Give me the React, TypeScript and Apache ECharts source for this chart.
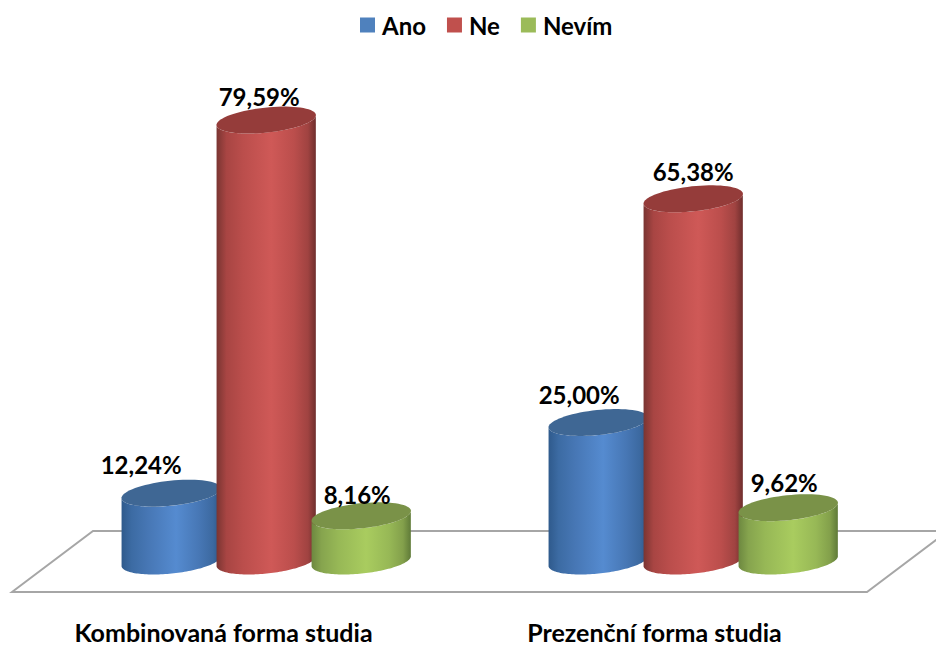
import React, { useEffect, useRef } from "react";
import * as echarts from "echarts";

const categories = ["Kombinovaná forma studia", "Prezenční forma studia"];
const seriesNames = ["Ano", "Ne", "Nevím"];
const ano = [12.24, 25.0];
const ne = [79.59, 65.38];
const nevim = [8.16, 9.62];
const seriesValues = [ano, ne, nevim];

// Per-label nudges (dx, dy from the top face centre), one row per series
const labelNudges = [
  [[-30, -29], [-19, -28]],
  [[-7, -24], [0, -27]],
  [[-4, -21], [-4, -25]],
];

const palettes = [
  { legend: "#4f81bd", top: "#3f6794", side: ["#2f5a8c", "#3c6ba3", "#4777b5", "#558bd0", "#4777b5", "#3c69a0", "#2c5587"] },
  { legend: "#c0504d", top: "#953c3a", side: ["#7a3532", "#a84543", "#bb4e4c", "#cf5957", "#bb4e4c", "#a04341", "#6f2e2d"] },
  { legend: "#9bbb59", top: "#7a9248", side: ["#6d8840", "#86a44e", "#97b856", "#a9cc5f", "#97b856", "#83a04b", "#5f7a38"] },
];
const sideStops = [0, 0.1, 0.27, 0.55, 0.78, 0.92, 1];

const FONT = "Lato";
const TILT = (6 * Math.PI) / 180;

// Outline of the tilted elliptical face, from angle a0 to a1
function arcPoints(cx: number, cy: number, rx: number, ry: number, a0: number, a1: number) {
  const pts: number[][] = [];
  const steps = 72;
  for (let i = 0; i <= steps; i++) {
    const t = a0 + ((a1 - a0) * i) / steps;
    const ex = rx * Math.cos(t);
    const ey = ry * Math.sin(t);
    pts.push([
      cx + ex * Math.cos(TILT) + ey * Math.sin(TILT),
      cy - ex * Math.sin(TILT) + ey * Math.cos(TILT),
    ]);
  }
  return pts;
}

function fmt(v: number) {
  return v.toFixed(2).replace(".", ",") + "%";
}

function cylinder(seriesIndex: number) {
  return (params: any, api: any) => {
    const idx = api.value(0);
    const val = api.value(1);
    const band = api.size([1, 0])[0];
    const [cxBase, yBase] = api.coord([idx, 0]);
    const [, yTop] = api.coord([idx, val]);
    const cx = cxBase + band * (0.1 + (seriesIndex - 1) * 0.2225);
    const rx = band * 0.117;
    const ry = rx * 0.25;
    const pal = palettes[seriesIndex];
    const tangent = Math.atan2(ry * Math.sin(TILT) * -1, rx * Math.cos(TILT));
    const lower = arcPoints(cx, yBase, rx, ry, tangent, tangent + Math.PI);
    const upper = arcPoints(cx, yTop, rx, ry, tangent + Math.PI, tangent);
    const side = lower.concat(upper);
    const top = arcPoints(cx, yTop, rx, ry, 0, Math.PI * 2);
    const [dx, dy] = labelNudges[seriesIndex][idx];
    return {
      type: "group",
      children: [
        {
          type: "polygon",
          shape: { points: side },
          style: {
            fill: new echarts.graphic.LinearGradient(
              0, 0, 1, 0,
              sideStops.map((offset, i) => ({ offset, color: pal.side[i] }))
            ),
          },
        },
        { type: "polygon", shape: { points: top }, style: { fill: pal.top } },
        {
          type: "text",
          z2: 10,
          style: {
            text: fmt(val),
            x: cx + dx,
            y: yTop + dy,
            align: "center",
            verticalAlign: "middle",
            fill: "#000",
            font: `bold 24px ${FONT}`,
          },
        },
      ],
    };
  };
}

// Perspective floor under the bars, spanning the category band of the grid
function floor(params: any) {
  const g = params.coordSys;
  const base = g.y + g.height;
  const skew = 81;
  return {
    type: "polygon",
    shape: {
      points: [
        [g.x + 2, base + 31],
        [g.x + 2 + skew, base - 30],
        [g.x + g.width + 3 + skew, base - 30],
        [g.x + g.width + 3, base + 31],
      ],
    },
    style: { fill: "#fff", stroke: "#a6a6a6", lineWidth: 2 },
  };
}

export default function App() {
  const ref = useRef<HTMLDivElement>(null);
  useEffect(() => {
    const chart = echarts.init(ref.current!, null, { renderer: "svg" });
    chart.setOption({
      animation: false,
      backgroundColor: "#fff",
      textStyle: { fontFamily: FONT },
      legend: {
        left: 355,
        top: 8,
        icon: "rect",
        itemWidth: 15,
        itemHeight: 15,
        itemGap: 21,
        data: seriesNames,
        textStyle: { fontFamily: FONT, fontWeight: "bold", fontSize: 24, color: "#000", padding: [0, 0, 0, 2] },
      },
      grid: { left: 10, right: 72, top: 7, bottom: 84 },
      xAxis: {
        type: "category",
        data: categories,
        axisLine: { show: false },
        axisTick: { show: false },
        axisLabel: {
          margin: 58,
          interval: 0,
          color: "#000",
          fontFamily: FONT,
          fontWeight: "bold",
          fontSize: 25,
          // the second category sits a few pixels further right
          formatter: (value: string, index: number) => (index === 1 ? `{shifted|${value}}` : value),
          rich: {
            shifted: {
              fontFamily: FONT,
              fontWeight: "bold",
              fontSize: 25,
              color: "#000",
              padding: [0, 0, 0, 8],
            },
          },
        },
      },
      yAxis: { type: "value", min: 0, max: 100, show: false },
      series: [
        {
          type: "custom",
          silent: true,
          coordinateSystem: "cartesian2d",
          renderItem: floor,
          data: [[0, 0]],
          z: 1,
        },
        ...seriesNames.map((name, s) => ({
          type: "custom",
          name,
          coordinateSystem: "cartesian2d",
          itemStyle: { color: palettes[s].legend },
          renderItem: cylinder(s),
          encode: { x: 0, y: 1 },
          data: seriesValues[s].map((v, i) => [i, v]),
          z: 2 + s,
        })),
      ],
    });
    return () => chart.dispose();
  }, []);
  return <div ref={ref} style={{ position: "absolute", left: 0, top: 0, width: 936, height: 645 }} />;
}
